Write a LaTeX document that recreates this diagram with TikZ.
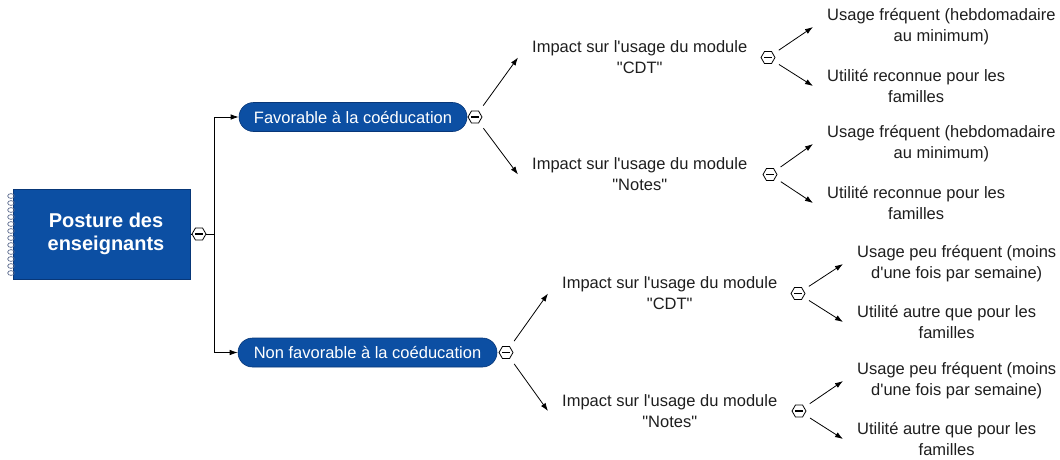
\documentclass[tikz,border=0pt]{standalone}
\usepackage{fontspec}
\setmainfont{Liberation Sans}
\usetikzlibrary{arrows.meta,shapes.geometric}
\definecolor{mmblue}{RGB}{12,79,163}
\definecolor{mmborder}{RGB}{8,55,120}
\definecolor{bindc}{RGB}{90,105,140}
\definecolor{txt}{RGB}{30,30,30}
\newcommand{\sq}{\textquotesingle}
\newcommand{\dq}{\textquotedbl}
\begin{document}
\begin{tikzpicture}[x=1pt,y=-1pt,
  lbl/.style={font=\fontsize{16.5}{21}\selectfont, text=txt, align=center, inner xsep=14pt, inner ysep=2pt, anchor=west},
  pill/.style={draw=mmborder, line width=0.6pt, fill=mmblue, rounded corners=14.5pt, text=white, font=\fontsize{16.5}{20}\selectfont, minimum height=29pt, inner xsep=0pt},
  rootbox/.style={draw=mmborder, line width=0.6pt, fill=mmblue, text=white, font=\fontsize{20}{23}\selectfont\bfseries, align=center, minimum width=177pt, minimum height=90pt, inner sep=0pt},
  hexm/.style={regular polygon, regular polygon sides=6, minimum size=14pt, inner sep=0pt, draw, line width=0.8pt, fill=white,
    path picture={\draw[line width=1.3pt] ([xshift=-3.6pt]path picture bounding box.center) -- ([xshift=3.6pt]path picture bounding box.center);}},
  arr/.style={-{Latex[length=8pt,width=5.5pt]}, line width=0.8pt},
  ln/.style={line width=0.8pt}]
\useasboundingbox (0,0) rectangle (1060,459);

% root
\node[rootbox] (root) at (102,234) {\hspace*{8pt}Posture des\\\hspace*{8pt}enseignants};
\foreach \i in {0,...,11}
  \draw[bindc, line width=0.7pt] (11, 196+\i*7) ellipse [x radius=3.3pt, y radius=2.4pt];
\node[hexm] (hr) at (199,234) {};
\coordinate (j) at (214,234);

% level 1
\node[pill, minimum width=228pt] (fav) at (353,117) {Favorable à la coéducation};
\node[pill, minimum width=259pt] (nfav) at (367.5,352.5) {Non favorable à la coéducation};
\node[hexm] (hf) at (475,117) {};
\node[hexm] (hn) at (506,352.5) {};

% level 2
\node[lbl] (c1) at (518,57.5) {Impact sur l\sq usage du module\\\dq CDT\dq};
\node[lbl] (n1) at (518,174.5) {Impact sur l\sq usage du module\\\dq Notes\dq};
\node[lbl] (c2) at (548,293.5) {Impact sur l\sq usage du module\\\dq CDT\dq};
\node[lbl] (n2) at (548,411) {Impact sur l\sq usage du module\\\dq Notes\dq};
\node[hexm] (h1) at (768,57.5) {};
\node[hexm] (h2) at (770,174.5) {};
\node[hexm] (h3) at (798,293.5) {};
\node[hexm] (h4) at (799,411) {};

% level 3
\node[lbl] (u1) at (813,27) {Usage fréquent (hebdomadaire\\au minimum)};
\node[lbl] (f1) at (813,86) {Utilité reconnue pour les\\familles};
\node[lbl] (u2) at (813,144) {Usage fréquent (hebdomadaire\\au minimum)};
\node[lbl] (f2) at (813,203) {Utilité reconnue pour les\\familles};
\node[lbl] (u3) at (843,264) {Usage peu fréquent (moins\\d\sq une fois par semaine)};
\node[lbl] (f3) at (843,322) {Utilité autre que pour les\\familles};
\node[lbl] (u4) at (843,381) {Usage peu fréquent (moins\\d\sq une fois par semaine)};
\node[lbl] (f4) at (843,439) {Utilité autre que pour les\\familles};

% connectors
\draw[ln] (root.east) -- (hr.west);
\draw[ln] (hr.east) -- (j);
\draw[arr] (j) |- (fav.west);
\draw[arr] (j) |- (nfav.west);

\draw[arr, shorten <=14pt] (hf.center) -- (c1.west);
\draw[arr, shorten <=14pt] (hf.center) -- (n1.west);
\draw[arr, shorten <=14pt] (hn.center) -- (c2.west);
\draw[arr, shorten <=14pt] (hn.center) -- (n2.west);

\draw[arr, shorten <=13pt] (h1.center) -- (u1.west);
\draw[arr, shorten <=13pt] (h1.center) -- (f1.west);
\draw[arr, shorten <=13pt] (h2.center) -- (u2.west);
\draw[arr, shorten <=13pt] (h2.center) -- (f2.west);
\draw[arr, shorten <=13pt] (h3.center) -- (u3.west);
\draw[arr, shorten <=13pt] (h3.center) -- (f3.west);
\draw[arr, shorten <=13pt] (h4.center) -- (u4.west);
\draw[arr, shorten <=13pt] (h4.center) -- (f4.west);
\end{tikzpicture}
\end{document}
